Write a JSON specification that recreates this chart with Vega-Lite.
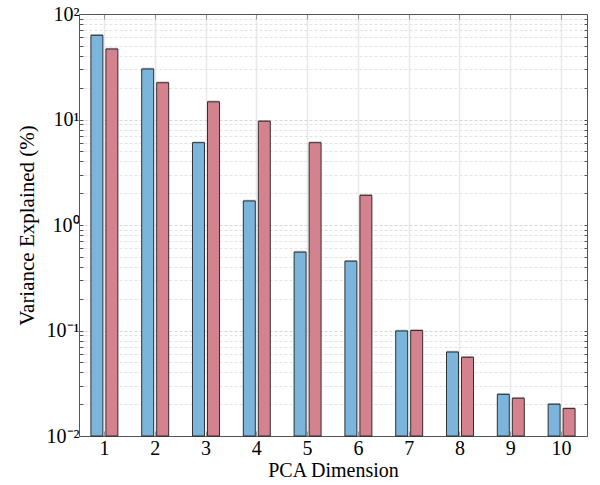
{
  "$schema": "https://vega.github.io/schema/vega-lite/v6.json",
  "width": 508,
  "height": 422,
  "autosize": "none",
  "padding": {"left": 79, "top": 14, "right": 13, "bottom": 49},
  "background": "white",
  "config": {"font": "Liberation Serif", "axis": {"labelFont": "Liberation Serif", "titleFont": "Liberation Serif"}, "view": {"stroke": null}},
  "data": {
    "values": [
      {"dim": 1, "series": "A", "value": 62.8},
      {"dim": 1, "series": "B", "value": 46.6},
      {"dim": 2, "series": "A", "value": 30.1},
      {"dim": 2, "series": "B", "value": 22.3},
      {"dim": 3, "series": "A", "value": 6.03},
      {"dim": 3, "series": "B", "value": 14.7},
      {"dim": 4, "series": "A", "value": 1.69},
      {"dim": 4, "series": "B", "value": 9.63},
      {"dim": 5, "series": "A", "value": 0.553},
      {"dim": 5, "series": "B", "value": 6.03},
      {"dim": 6, "series": "A", "value": 0.454},
      {"dim": 6, "series": "B", "value": 1.91},
      {"dim": 7, "series": "A", "value": 0.099},
      {"dim": 7, "series": "B", "value": 0.1},
      {"dim": 8, "series": "A", "value": 0.0625},
      {"dim": 8, "series": "B", "value": 0.0557},
      {"dim": 9, "series": "A", "value": 0.0248},
      {"dim": 9, "series": "B", "value": 0.0228},
      {"dim": 10, "series": "A", "value": 0.02},
      {"dim": 10, "series": "B", "value": 0.0182}
    ]
  },
  "layer": [
    {
      "mark": {"type": "bar", "fill": "#808080", "opacity": 0.55, "xOffset": 1.3, "yOffset": -1.3},
      "encoding": {
        "x": {
          "field": "dim", "type": "ordinal",
          "scale": {"paddingInner": 0, "paddingOuter": 0},
          "axis": {
            "orient": "bottom", "title": "PCA Dimension", "labelAngle": 0,
            "labelFont": "Liberation Serif", "titleFont": "Liberation Serif",
            "labelFontSize": 20, "titleFontSize": 20, "labelColor": "black", "titleColor": "black",
            "titleFontWeight": "normal", "tickSize": -5, "tickColor": "#999999", "labelPadding": 7,
            "titlePadding": 2, "domainColor": "#555555", "grid": true, "gridColor": "#e8e8e8", "gridWidth": 1.5
          }
        },
        "xOffset": {"field": "series", "scale": {"paddingInner": 0.2, "paddingOuter": 0.793}},
        "y": {
          "field": "value", "type": "quantitative",
          "scale": {"type": "log", "domain": [0.01, 100], "nice": false},
          "axis": {
            "orient": "left", "title": "Variance Explained (%)", "titleFontSize": 21,
            "labelFont": "Liberation Serif", "titleFont": "Liberation Serif",
            "titleFontWeight": "normal", "titleColor": "black", "labelFontSize": 20, "labelColor": "black",
            "values": [0.01, 0.02, 0.03, 0.04, 0.05, 0.06, 0.07, 0.08, 0.09, 0.1, 0.2, 0.3, 0.4, 0.5, 0.6, 0.7, 0.8, 0.9, 1, 2, 3, 4, 5, 6, 7, 8, 9, 10, 20, 30, 40, 50, 60, 70, 80, 90, 100],
            "labelExpr": "abs(datum.value-100)<1e-9 ? '10\u00b2' : abs(datum.value-10)<1e-9 ? '10\u00b9' : abs(datum.value-1)<1e-9 ? '10\u2070' : abs(datum.value-0.1)<1e-9 ? '10\u207b\u00b9' : abs(datum.value-0.01)<1e-9 ? '10\u207b\u00b2' : ''",
            "labelPadding": 4, "tickSize": -4, "tickColor": "#555555", "domainColor": "#555555",
            "grid": true, "gridDash": [3, 2], "gridWidth": 0.8,
            "gridColor": {"condition": {"test": "abs(log(datum.value)/LN10 - round(log(datum.value)/LN10)) < 1e-6", "value": "#cccccc"}, "value": "#dddddd"},
            "titlePadding": 9
          }
        },
        "y2": {"datum": 0.01}
      }
    },
    {
      "mark": {"type": "bar", "stroke": "#1a1a1a", "strokeWidth": 1, "strokeOpacity": 0.85},
      "encoding": {
        "x": {
          "field": "dim", "type": "ordinal",
          "scale": {"paddingInner": 0, "paddingOuter": 0},
          "axis": {"orient": "top", "title": null, "labels": false, "tickSize": -5, "tickColor": "#999999", "domainColor": "#555555", "grid": false}
        },
        "xOffset": {"field": "series", "scale": {"paddingInner": 0.2, "paddingOuter": 0.793}},
        "y": {
          "field": "value", "type": "quantitative",
          "scale": {"type": "log", "domain": [0.01, 100], "nice": false},
          "axis": {
            "orient": "right", "title": null, "labels": false, "grid": false,
            "values": [0.01, 0.02, 0.03, 0.04, 0.05, 0.06, 0.07, 0.08, 0.09, 0.1, 0.2, 0.3, 0.4, 0.5, 0.6, 0.7, 0.8, 0.9, 1, 2, 3, 4, 5, 6, 7, 8, 9, 10, 20, 30, 40, 50, 60, 70, 80, 90, 100],
            "tickSize": -3, "tickColor": "#555555", "domainColor": "#555555"
          }
        },
        "y2": {"datum": 0.01},
        "color": {"field": "series", "type": "nominal", "scale": {"domain": ["A", "B"], "range": ["#7bb5dc", "#d4828e"]}, "legend": null}
      }
    }
  ],
  "resolve": {"axis": {"x": "independent", "y": "independent"}}
}
